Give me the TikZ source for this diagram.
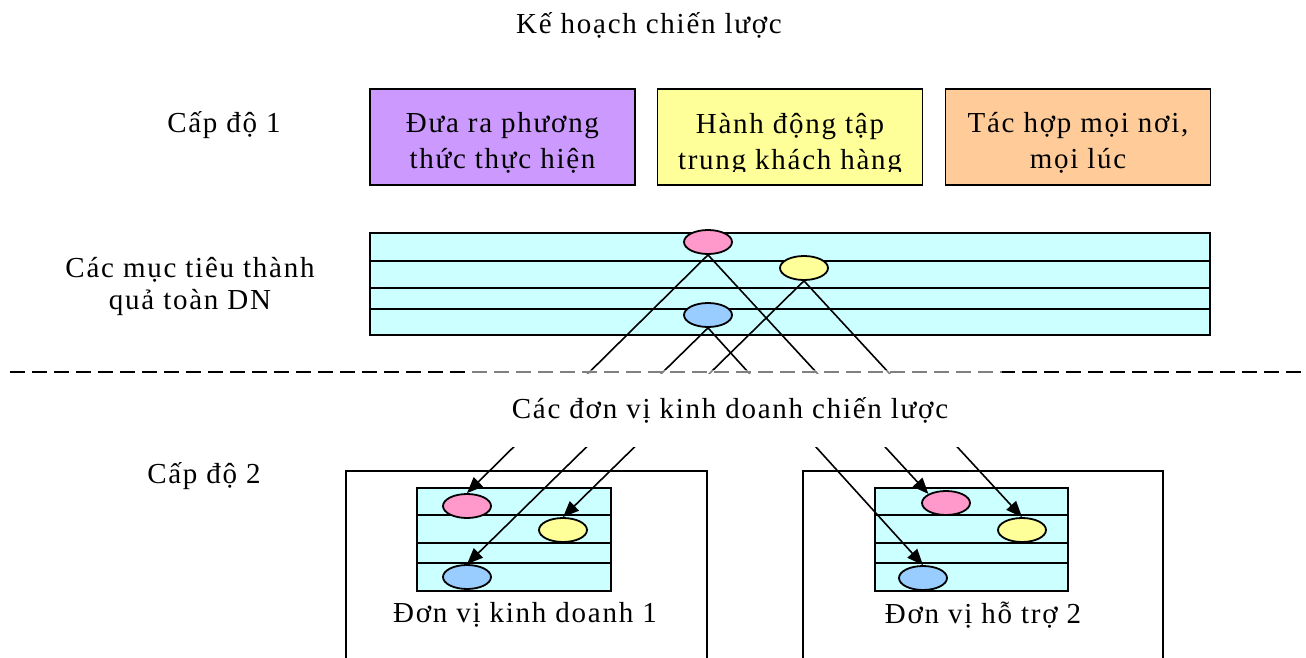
\documentclass[tikz,border=0pt]{standalone}
\usepackage{fontspec}
\setmainfont{Liberation Serif}[LetterSpace=6]
\usetikzlibrary{shapes.geometric,arrows.meta}
\definecolor{purplec}{HTML}{CC99FF}
\definecolor{yellowc}{HTML}{FFFF99}
\definecolor{orangec}{HTML}{FFCC99}
\definecolor{cyanc}{HTML}{CCFFFF}
\definecolor{pinkc}{HTML}{FF99CC}
\definecolor{bluec}{HTML}{99CCFF}
\begin{document}
\begin{tikzpicture}[x=1pt,y=-1pt, line width=1.8pt,
  txt/.style={font=\fontsize{29}{36}\selectfont, align=center, inner sep=0},
  ell/.style={ellipse, draw, line width=1.8pt, minimum width=48, minimum height=24, inner sep=0},
  box/.style={draw, line width=1.8pt, minimum width=265, minimum height=96, inner sep=0},
  conn/.style={line width=1.6pt, -{Triangle[length=16pt,width=13pt]}},
]
\useasboundingbox (0,0) rectangle (1306,658);
\clip (0,0) rectangle (1306,658);

% title and level labels
\node[txt] (title) at (649,25) {Kế hoạch chiến lược};
\node[txt] (cap1) at (224,125) {Cấp độ 1};
\node[txt, font=\fontsize{29}{32}\selectfont] (goals) at (190,286) {Các mục tiêu thành\\quả toàn DN};
\node[txt] (cap2) at (204,476) {Cấp độ 2};

% level 1 boxes
\node[box, fill=purplec] (b1) at (502.5,137) {};
\node[box, fill=yellowc] (b2) at (790,137) {};
\node[box, fill=orangec] (b3) at (1078,137) {};
\node[txt] (t1) at (502.5,143) {Đưa ra phương\\thức thực hiện};
\begin{scope}
\clip (658,89) rectangle (922,171);
\node[txt] (t2) at (790,145) {Hành động tập\\trung khách hàng};
\end{scope}
\node[txt] (t3) at (1078,143) {Tác hợp mọi nơi,\\mọi lúc};

% company-wide goals band
\filldraw[fill=cyanc] (370,233) rectangle (1210,335);
\draw (370,261) -- (1210,261);
\draw (370,288) -- (1210,288);
\draw (370,309) -- (1210,309);
\node[ell, fill=pinkc] (gp) at (708,242) {};
\node[ell, fill=yellowc] (gy) at (804,268) {};
\node[ell, fill=bluec] (gb) at (708,315) {};

% business units
\draw (346,471) rectangle (707,680);
\draw (803,471) rectangle (1163,680);
\filldraw[fill=cyanc] (417,488) rectangle (611,591);
\draw (417,515) -- (611,515);
\draw (417,543) -- (611,543);
\draw (417,563) -- (611,563);
\filldraw[fill=cyanc] (875,488) rectangle (1068,591);
\draw (875,515) -- (1068,515);
\draw (875,543) -- (1068,543);
\draw (875,563) -- (1068,563);
\node[ell, fill=pinkc] (u1p) at (467,506) {};
\node[ell, fill=yellowc] (u1y) at (563,530) {};
\node[ell, fill=bluec] (u1b) at (467,577) {};
\node[ell, fill=pinkc] (u2p) at (946,503) {};
\node[ell, fill=yellowc] (u2y) at (1022,530) {};
\node[ell, fill=bluec] (u2b) at (923,578) {};
\node[txt] (n1) at (525,615) {Đơn vị kinh doanh 1};
\node[txt] (n2) at (983,615) {Đơn vị hỗ trợ 2};

% connectors
\draw[conn] (gp.south) -- (u1p.north);
\draw[conn] (gb.south) -- (u1b.north);
\draw[conn] (gy.south) -- (u1y.north);
\draw[conn] (gb.south) -- (u2b.north);
\draw[conn] (gp.south) -- (u2p.north west);
\draw[conn] (gy.south) -- (u2y.north);

% strategic business units band
\fill[white] (470,373.6) rectangle (1002,447);
\draw[line width=2.2pt, dash pattern=on 15pt off 7pt] (10,372) -- (1306,372);
\fill[white, opacity=0.5] (470,370) rectangle (1002,374);
\node[txt] (sbu) at (730,410) {Các đơn vị kinh doanh chiến lược};
\end{tikzpicture}
\end{document}
